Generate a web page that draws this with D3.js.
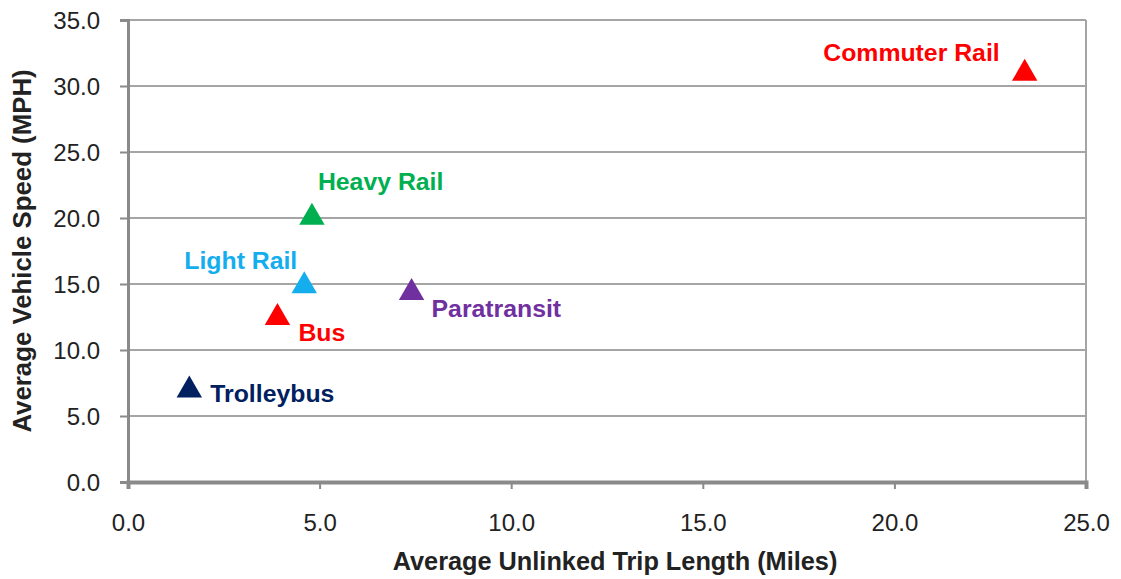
<!DOCTYPE html>
<html>
<head>
<meta charset="utf-8">
<script src="https://cdn.jsdelivr.net/npm/d3@7"></script>
<style>
  html, body { margin: 0; padding: 0; background: #fff; }
  svg { display: block; }
  text { font-family: "Liberation Sans", Arial, sans-serif; }
</style>
</head>
<body>
<svg id="chart" width="1121" height="579"></svg>
<script>
// ---- data ----
const modes = ["Commuter Rail", "Heavy Rail", "Light Rail", "Paratransit", "Bus", "Trolleybus"];
const tripLength = [23.4, 4.8, 4.6, 7.4, 3.9, 1.6];     // miles
const vehicleSpeed = [31.1, 20.2, 15.0, 14.5, 12.6, 7.1]; // mph
const xTicks = [0, 5, 10, 15, 20, 25];
const yTicks = [0, 5, 10, 15, 20, 25, 30, 35];
const xTitle = "Average Unlinked Trip Length (Miles)";
const yTitle = "Average Vehicle Speed (MPH)";

// ---- styling / layout ----
const colors = ["#FF0000", "#00B050", "#14AEEE", "#7030A0", "#FF0000", "#002060"];
// label placement relative to marker: [dx, dy, anchor]
const labelPlace = [[-25, -10, "end"], [6, -25, "start"], [-7, -15, "end"], [20, 26, "start"], [21, 25, "start"], [21, 14, "start"]];

const svg = d3.select("#chart");
const M = { left: 128, right: 1121 - 1086, top: 20, bottom: 579 - 482 };
const W = 1121, H = 579;
const x = d3.scaleLinear().domain([0, 25]).range([M.left, W - M.right]);
const y = d3.scaleLinear().domain([0, 35]).range([H - M.bottom, M.top]);

// gridlines
svg.append("g").selectAll("line").data(yTicks.filter(d => d > 0)).join("line")
  .attr("x1", x(0)).attr("x2", x(25))
  .attr("y1", d => y(d)).attr("y2", d => y(d))
  .attr("stroke", "#A5A5A5").attr("stroke-width", 2);

// right border
svg.append("line").attr("x1", x(25)).attr("x2", x(25)).attr("y1", y(35)).attr("y2", y(0))
  .attr("stroke", "#A5A5A5").attr("stroke-width", 2);

// y axis
const yAxis = d3.axisLeft(y).tickValues(yTicks).tickFormat(d3.format(".1f")).tickSize(8).tickPadding(20);
const gy = svg.append("g").attr("transform", `translate(${x(0)},0)`).call(yAxis);
gy.select(".domain").attr("stroke", "#8A8A8A").attr("stroke-width", 3);
gy.selectAll(".tick line").attr("stroke", "#8A8A8A").attr("stroke-width", 2);
gy.selectAll(".tick text").attr("font-size", 24).attr("fill", "#222").attr("dy", "0.35em")
  .attr("font-family", "'Liberation Sans', Arial, sans-serif");

// x axis
const xAxis = d3.axisBottom(x).tickValues(xTicks).tickFormat(d3.format(".1f")).tickSize(7).tickPadding(25);
const gx = svg.append("g").attr("transform", `translate(0,${y(0)})`).call(xAxis);
gx.select(".domain").attr("stroke", "#8A8A8A").attr("stroke-width", 4);
gx.selectAll(".tick line").attr("stroke", "#8A8A8A").attr("stroke-width", 2);
gx.selectAll(".tick text").attr("font-size", 24).attr("fill", "#222")
  .attr("font-family", "'Liberation Sans', Arial, sans-serif");

// axis titles
svg.append("text").attr("x", 615).attr("y", 570).attr("text-anchor", "middle")
  .attr("font-size", 25.3).attr("font-weight", "bold").attr("fill", "#222").text(xTitle);
svg.append("text").attr("transform", `translate(31,${(y(0) + y(35)) / 2}) rotate(-90)`)
  .attr("text-anchor", "middle").attr("font-size", 25.8).attr("font-weight", "bold").attr("fill", "#222").text(yTitle);

// markers
const tri = d3.symbol().type(d3.symbolTriangle).size(280);
const pts = modes.map((m, i) => ({ m, xv: tripLength[i], yv: vehicleSpeed[i], c: colors[i], p: labelPlace[i] }));
svg.append("g").selectAll("path").data(pts).join("path")
  .attr("d", tri)
  .attr("transform", d => `translate(${x(d.xv)},${y(d.yv) + 2})`)
  .attr("fill", d => d.c);

// labels
svg.append("g").selectAll("text").data(pts).join("text")
  .attr("x", d => x(d.xv) + d.p[0]).attr("y", d => y(d.yv) + d.p[1])
  .attr("text-anchor", d => d.p[2])
  .attr("font-size", 24.8).attr("font-weight", "bold").attr("fill", d => d.c)
  .text(d => d.m);
</script>
</body>
</html>
